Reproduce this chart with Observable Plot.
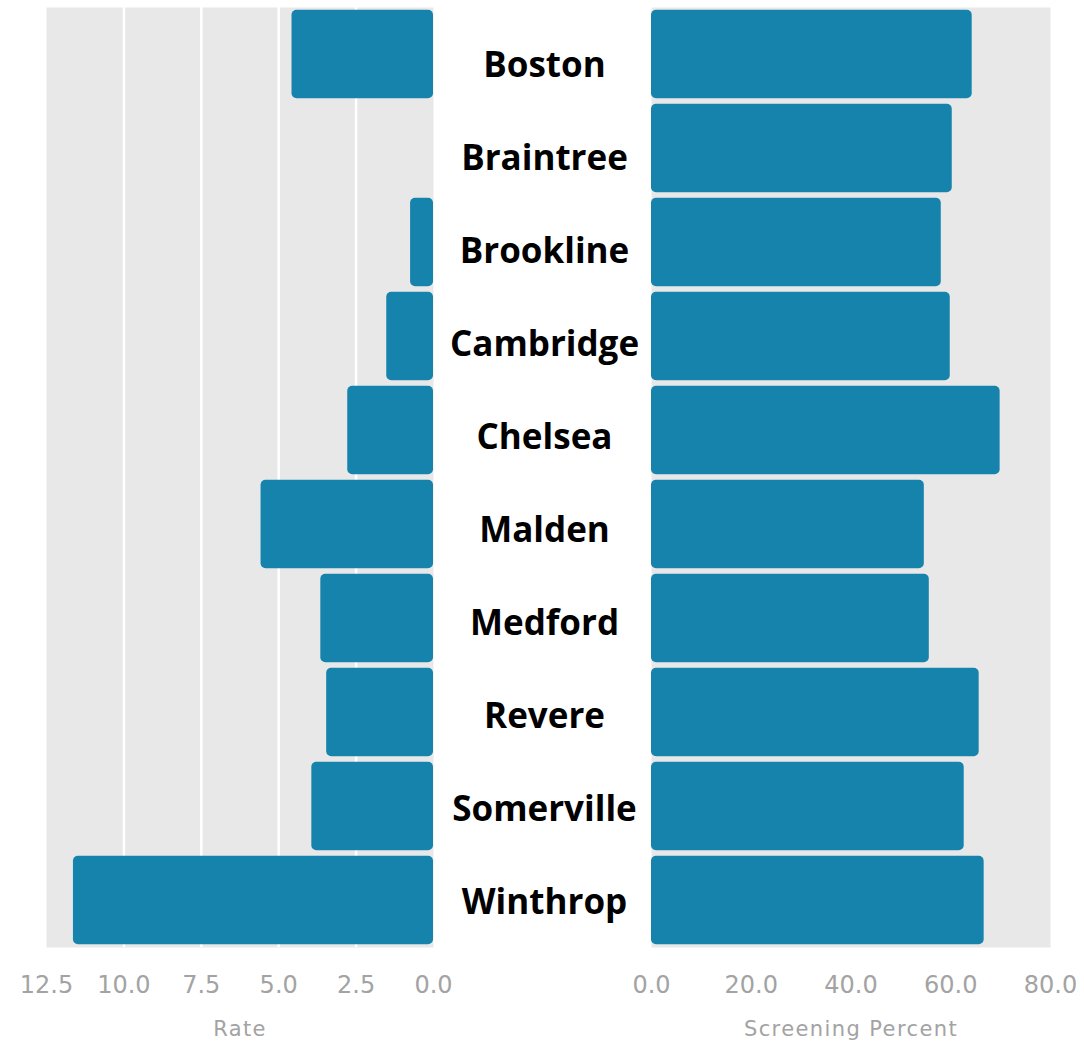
<!DOCTYPE html>
<html>
<head>
<meta charset="utf-8">
<script src="https://cdn.jsdelivr.net/npm/d3@7"></script>
<script src="https://cdn.jsdelivr.net/npm/@observablehq/plot@0.6"></script>
<style>
  html, body { margin: 0; padding: 0; background: #fff; }
  #wrap { position: relative; width: 1084px; height: 1049px; }
  #wrap svg { position: absolute; left: 0; top: 0; display: block; background: transparent; }
</style>
</head>
<body>
<div id="wrap"></div>
<script>
const cities = ["Boston", "Braintree", "Brookline", "Cambridge", "Chelsea", "Malden", "Medford", "Revere", "Somerville", "Winthrop"];
const rate = [4.57, 0, 0.74, 1.51, 2.77, 5.57, 3.64, 3.45, 3.93, 11.63];
const screening = [64.3, 60.3, 58.1, 59.9, 69.9, 54.7, 55.7, 65.7, 62.7, 66.7];
const rateTicks = [0, 2.5, 5, 7.5, 10, 12.5];
const rateGrid = [2.5, 5, 7.5, 10];
const screenTicks = [0, 20, 40, 60, 80];
const leftTitle = ["Rate"];
const rightTitle = ["Screening Percent"];

const data = cities.map((c, i) => ({city: c, rate: rate[i], screening: screening[i]}));

const barColor = "#1683ad";
const bgColor = "#e8e8e8";
const tickColor = "#a3a3a3";
const W = 1084, H = 1049, MT = 7, MB = 102;
const yScale = {domain: cities, paddingInner: 0.06, paddingOuter: 0.03, round: false};

const left = Plot.plot({
  width: W, height: H,
  marginLeft: 46, marginRight: W - 433, marginTop: MT, marginBottom: MB,
  style: {background: "transparent", overflow: "visible"},
  x: {domain: [0, 12.5], reverse: true},
  y: {...yScale, axis: null},
  marks: [
    Plot.frame({fill: bgColor, stroke: null}),
    Plot.gridX(rateGrid, {stroke: "white", strokeOpacity: 1, strokeWidth: 2.5}),
    Plot.barX(data, {x: "rate", y: "city", fill: barColor, rx: 5}),
    Plot.axisX(rateTicks, {tickFormat: d3.format(".1f"), tickSize: 0, tickPadding: 28, fontSize: 24, fontFamily: "DejaVu Sans", color: tickColor, label: null}),
    Plot.text(leftTitle, {frameAnchor: "bottom", dy: 88, fontSize: 21, fontFamily: "DejaVu Sans", fill: tickColor})
  ]
});

const right = Plot.plot({
  width: W, height: H,
  marginLeft: 651, marginRight: 34, marginTop: MT, marginBottom: MB,
  style: {background: "transparent", overflow: "visible"},
  x: {domain: [0, 80]},
  y: {...yScale, axis: null},
  marks: [
    Plot.frame({fill: bgColor, stroke: null}),
    Plot.barX(data, {x: "screening", y: "city", fill: barColor, rx: 5}),
    Plot.axisX(screenTicks, {tickFormat: d3.format(".1f"), tickSize: 0, tickPadding: 28, fontSize: 24, fontFamily: "DejaVu Sans", color: tickColor, label: null}),
    Plot.text(rightTitle, {frameAnchor: "bottom", dy: 88, fontSize: 21, fontFamily: "DejaVu Sans", fill: tickColor})
  ]
});

// City labels in the middle column
const labels = Plot.plot({
  width: W, height: H,
  marginLeft: 435, marginRight: 431, marginTop: 57, marginBottom: 151,
  style: {background: "transparent", overflow: "visible"},
  x: {axis: null},
  y: {type: "point", domain: cities, padding: 0, axis: null},
  marks: [
    Plot.text(cities, {y: d => d, fontSize: 35, fontWeight: "bold", fontFamily: "Open Sans", fill: "black", dy: 6})
  ]
});

// slightly wider tracking for the axis titles, like the reference font
for (const svg of [left, right]) {
  svg.querySelectorAll('g[aria-label="text"] text').forEach(t => t.setAttribute("letter-spacing", "1.4"));
}

document.getElementById("wrap").append(left, right, labels);
</script>
</body>
</html>
